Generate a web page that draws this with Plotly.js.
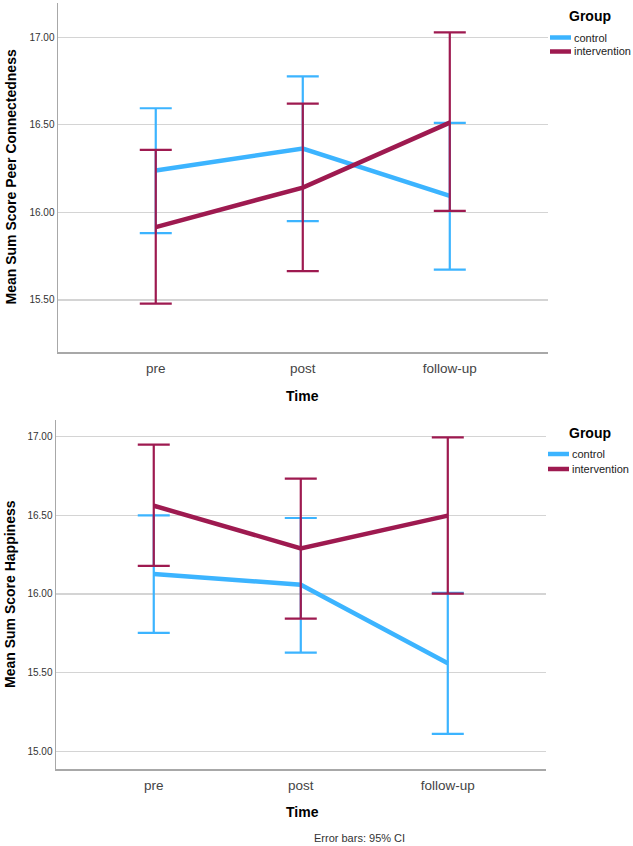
<!DOCTYPE html>
<html>
<head>
<meta charset="utf-8">
<script src="https://cdn.plot.ly/plotly-3.0.1.min.js"></script>
<style>html,body{margin:0;padding:0;background:#fff;}#chart{width:633px;height:846px;}</style>
</head>
<body>
<div id="chart"></div>
<script>
// ---- data ----
const timePoints = ["pre", "post", "follow-up"];
const groups = ["control", "intervention"];

// Peer connectedness (top panel)
const peerControlMean = [16.24, 16.365, 16.095];
const peerControlUpper = [16.595, 16.777, 16.511];
const peerControlLower = [15.882, 15.950, 15.673];
const peerInterventionMean = [15.916, 16.142, 16.513];
const peerInterventionUpper = [16.357, 16.621, 17.028];
const peerInterventionLower = [15.479, 15.665, 16.009];

// Happiness (bottom panel)
const happyControlMean = [16.127, 16.059, 15.559];
const happyControlUpper = [16.500, 16.483, 16.007];
const happyControlLower = [15.752, 15.627, 15.110];
const happyInterventionMean = [16.561, 16.290, 16.498];
const happyInterventionUpper = [16.949, 16.733, 16.996];
const happyInterventionLower = [16.178, 15.843, 16.002];

const peerTicks = [15.5, 16.0, 16.5, 17.0];
const happyTicks = [15.0, 15.5, 16.0, 16.5, 17.0];

// ---- style ----
const FONT = "Arial, 'Liberation Sans', sans-serif";
const colControl = "#3cb4ff";
const colInterv = "#9e1a50";
const W = 633, H = 846;

function trace(mean, upper, lower, color, name, xa, ya) {
  return {
    type: "scatter", mode: "lines", name: name, showlegend: false,
    x: timePoints, y: mean, xaxis: xa, yaxis: ya,
    line: {color: color, width: 4.5},
    error_y: {
      type: "data", symmetric: false,
      array: upper.map((u, i) => u - mean[i]),
      arrayminus: lower.map((l, i) => mean[i] - l),
      color: color, thickness: 2.2, width: 16
    },
    hoverinfo: "x+y"
  };
}

const data = [
  trace(peerControlMean, peerControlUpper, peerControlLower, colControl, groups[0], "x", "y"),
  trace(peerInterventionMean, peerInterventionUpper, peerInterventionLower, colInterv, groups[1], "x", "y"),
  trace(happyControlMean, happyControlUpper, happyControlLower, colControl, groups[0], "x2", "y2"),
  trace(happyInterventionMean, happyInterventionUpper, happyInterventionLower, colInterv, groups[1], "x2", "y2")
];

function xAxis(domain, anchor) {
  return {
    type: "category", domain: domain, anchor: anchor, range: [-0.665, 2.668],
    showgrid: false, zeroline: false, showline: true, linecolor: "#a8a8a8", linewidth: 1.5,
    ticks: "", ticklabelstandoff: 3,
    tickfont: {family: FONT, size: 13.5, color: "#444"}, fixedrange: true
  };
}
function yAxis(domain, anchor, range, ticks) {
  return {
    domain: domain, anchor: anchor, range: range,
    tickvals: ticks, ticktext: ticks.map(v => v.toFixed(2)),
    showgrid: true, gridcolor: "#d4d4d4", gridwidth: 1.2,
    zeroline: false, showline: true, linecolor: "#a8a8a8", linewidth: 1.5,
    ticks: "", tickfont: {family: FONT, size: 10, color: "#333"}, fixedrange: true
  };
}

const px = v => v / W;
const py = v => 1 - v / H;

const annotations = [];
const shapes = [];
function ann(text, x, y, size, bold, extra) {
  annotations.push(Object.assign({
    text: bold ? "<b>" + text + "</b>" : text,
    xref: "paper", yref: "paper", x: px(x), y: py(y),
    xanchor: "center", yanchor: "middle", showarrow: false,
    font: {family: FONT, size: size, color: bold ? "#000" : "#333"}
  }, extra || {}));
}
// axis titles
ann("Mean Sum Score Peer Connectedness", 10, 177.5, 14, true, {textangle: -90});
ann("Time", 302, 396, 14, true);
ann("Mean Sum Score Happiness", 10, 594, 14, true, {textangle: -90});
ann("Time", 302, 812, 14, true);
ann("Error bars: 95% CI", 359, 838, 11, false);

// legends
function legend(titleY, rows, xLine0, xLine1, xText) {
  ann("Group", 590, titleY, 14, true);
  rows.forEach(r => {
    shapes.push({type: "line", xref: "paper", yref: "paper",
      x0: px(xLine0), x1: px(xLine1), y0: py(r.y), y1: py(r.y),
      line: {color: r.color, width: 4.5}});
    ann(r.name, xText, r.y, 11, false, {xanchor: "left", font: {family: FONT, size: 11, color: "#222"}});
  });
}
legend(16, [{name: groups[0], y: 37.5, color: colControl}, {name: groups[1], y: 51.5, color: colInterv}], 550, 571, 572);
legend(433, [{name: groups[0], y: 454, color: colControl}, {name: groups[1], y: 469, color: colInterv}], 548, 569, 570);

const layout = {
  width: W, height: H,
  margin: {l: 0, r: 0, t: 0, b: 0},
  paper_bgcolor: "#fff", plot_bgcolor: "#fff",
  showlegend: false,
  xaxis: xAxis([58 / W, 548 / W], "y"),
  yaxis: yAxis([1 - 352 / H, 1 - 3 / H], "x", [15.203, 17.196], peerTicks),
  xaxis2: xAxis([56 / W, 546 / W], "y2"),
  yaxis2: yAxis([1 - 769 / H, 1 - 420 / H], "x2", [14.887, 17.106], happyTicks),
  annotations: annotations,
  shapes: shapes
};

Plotly.newPlot("chart", data, layout, {displayModeBar: false, staticPlot: true});
</script>
</body>
</html>
